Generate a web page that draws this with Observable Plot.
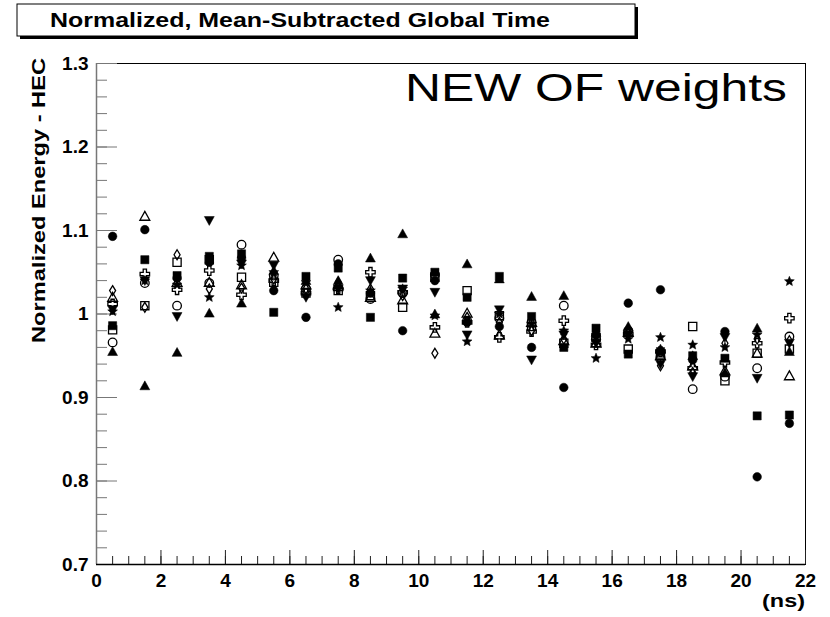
<!DOCTYPE html>
<html>
<head>
<meta charset="utf-8">
<script src="https://cdn.jsdelivr.net/npm/d3@7"></script>
<script src="https://cdn.jsdelivr.net/npm/@observablehq/plot@0.6"></script>
<style>
  html, body { margin: 0; padding: 0; background: #fff; }
  #chart { width: 830px; height: 617px; position: relative; }
</style>
</head>
<body>
<div id="chart"></div>
<script>
// ---------- data ----------
const timeBins = [0.5, 1.5, 2.5, 3.5, 4.5, 5.5, 6.5, 7.5, 8.5, 9.5, 10.5,
                  11.5, 12.5, 13.5, 14.5, 15.5, 16.5, 17.5, 18.5, 19.5, 20.5, 21.5];

const fullCircle   = [1.093, 1.101, 1.043, 1.062, 1.067, 1.028, 0.996, 1.060, 1.025, 0.980, 1.040, 0.990, 0.985, 0.960, 0.912, 0.975, 1.013, 1.029, 0.945, 0.979, 0.805, 0.869];
const fullSquare   = [0.986, 1.065, 1.046, 1.069, 1.072, 1.002, 1.045, 1.055, 0.996, 1.043, 1.050, 1.020, 1.045, 0.997, 0.960, 0.983, 0.952, 0.955, 0.950, 0.947, 0.878, 0.879];
const fullTriUp    = [0.955, 0.914, 0.954, 1.001, 1.013, 1.052, 1.040, 1.040, 1.067, 1.096, 1.000, 1.060, 1.042, 1.021, 1.022, 0.978, 0.985, 0.958, 0.950, 0.930, 0.983, 0.955];
const fullTriDown  = [1.005, 1.040, 0.997, 1.112, 1.060, 1.058, 1.020, 1.030, 1.040, 1.030, 1.026, 0.975, 1.005, 0.945, 0.975, 0.965, 0.975, 0.940, 0.925, 0.972, 0.923, 0.965];
const openCircle   = [0.966, 1.037, 1.010, 1.037, 1.083, 1.046, 1.030, 1.065, 1.018, 1.025, 1.047, 0.992, 0.995, 0.990, 1.010, 0.970, 0.980, 0.948, 0.910, 0.925, 0.935, 0.973];
const openSquare   = [0.981, 1.010, 1.062, 1.065, 1.044, 1.038, 1.025, 1.028, 1.022, 1.008, 1.044, 1.028, 0.998, 0.985, 0.965, 0.972, 0.958, 0.952, 0.985, 0.920, 0.953, 0.958];
const openTriUp    = [1.020, 1.117, 1.038, 1.038, 1.035, 1.068, 1.035, 1.035, 1.020, 1.017, 0.977, 1.001, 0.975, 0.990, 0.968, 0.965, 0.978, 0.950, 0.938, 0.932, 0.953, 0.926];
const openDiamond  = [1.028, 1.008, 1.071, 1.030, 1.031, 1.042, 1.030, 1.038, 1.030, 1.022, 0.953, 0.996, 0.990, 0.980, 0.970, 0.968, 0.982, 0.938, 0.930, 0.965, 0.970, 0.968];
const openCross    = [1.012, 1.048, 1.029, 1.052, 1.023, 1.040, 1.025, 1.030, 1.050, 1.026, 0.984, 0.990, 0.972, 0.979, 0.992, 0.963, 0.976, 0.955, 0.935, 0.942, 0.965, 0.995];
const fullStar     = [1.003, 1.040, 1.035, 1.020, 1.058, 1.050, 1.038, 1.008, 1.028, 1.030, 0.998, 0.967, 1.000, 0.988, 0.980, 0.947, 0.970, 0.972, 0.963, 0.960, 0.975, 1.039];

const xTicks = [0, 2, 4, 6, 8, 10, 12, 14, 16, 18, 20, 22];
const xTickLabels = ["0", "2", "4", "6", "8", "10", "12", "14", "16", "18", "20", "22"];
const yTicks = [0.7, 0.8, 0.9, 1.0, 1.1, 1.2, 1.3];
const yTickLabels = ["0.7", "0.8", "0.9", "1", "1.1", "1.2", "1.3"];

const titleText = "Normalized, Mean-Subtracted Global Time";
const yLabelText = "Normalized Energy - HEC";
const xLabelText = "(ns)";
const noteText = "NEW OF weights";

// ---------- marker shapes (ROOT style) ----------
const mk = fn => ({draw(ctx, size) { const r = Math.sqrt(size / Math.PI); fn(ctx, r); }});
const shapes = {
  circle: mk((c, r) => { c.moveTo(r, 0); c.arc(0, 0, r, 0, 2 * Math.PI); c.closePath(); }),
  square: mk((c, r) => { const s = r * 0.95; c.rect(-s, -s, 2 * s, 2 * s); }),
  triUp: mk((c, r) => { const h = r * 1.15; c.moveTo(0, -h); c.lineTo(h, h * 0.8); c.lineTo(-h, h * 0.8); c.closePath(); }),
  triDown: mk((c, r) => { const h = r * 1.15; c.moveTo(0, h); c.lineTo(h, -h * 0.8); c.lineTo(-h, -h * 0.8); c.closePath(); }),
  diamond: mk((c, r) => { const w = r * 0.7, h = r * 1.15; c.moveTo(0, -h); c.lineTo(w, 0); c.lineTo(0, h); c.lineTo(-w, 0); c.closePath(); }),
  cross: mk((c, r) => {
    const a = r * 0.38, b = r * 1.1;
    const p = [[-a,-b],[a,-b],[a,-a],[b,-a],[b,a],[a,a],[a,b],[-a,b],[-a,a],[-b,a],[-b,-a],[-a,-a]];
    c.moveTo(p[0][0], p[0][1]); p.slice(1).forEach(q => c.lineTo(q[0], q[1])); c.closePath();
  }),
  star: mk((c, r) => {
    const R = r * 1.2, ri = R * 0.45;
    for (let i = 0; i < 10; i++) {
      const rad = i % 2 ? ri : R, a = -Math.PI / 2 + i * Math.PI / 5;
      const x = rad * Math.cos(a), y = rad * Math.sin(a);
      i ? c.lineTo(x, y) : c.moveTo(x, y);
    }
    c.closePath();
  })
};

const series = [
  {name: "fullCircle",  values: fullCircle,  shape: "circle",  filled: true},
  {name: "fullSquare",  values: fullSquare,  shape: "square",  filled: true},
  {name: "fullTriUp",   values: fullTriUp,   shape: "triUp",   filled: true},
  {name: "fullTriDown", values: fullTriDown, shape: "triDown", filled: true},
  {name: "openCircle",  values: openCircle,  shape: "circle",  filled: false},
  {name: "openSquare",  values: openSquare,  shape: "square",  filled: false},
  {name: "openTriUp",   values: openTriUp,   shape: "triUp",   filled: false},
  {name: "openDiamond", values: openDiamond, shape: "diamond", filled: false},
  {name: "openCross",   values: openCross,   shape: "cross",   filled: false},
  {name: "fullStar",    values: fullStar,    shape: "star",    filled: true}
];

const table = series.flatMap(s => s.values.map((v, i) => ({series: s.name, x: timeBins[i], y: v})));

const xMinor = d3.range(0, 22.001, 0.5);
const yMinor = d3.range(0, 31).map(i => +(0.7 + i * 0.02).toFixed(2));

const font = "'Liberation Sans', Arial, Helvetica, sans-serif";

const dotMarks = series.map(s => Plot.dot(table.filter(d => d.series === s.name), {
  x: "x", y: "y", r: 4.3,
  symbol: shapes[s.shape],
  fill: s.filled ? "#000" : "none",
  stroke: "#000",
  strokeWidth: s.filled ? 0.5 : 1.3
}));

const svg = Plot.plot({
  width: 830,
  height: 617,
  marginLeft: 96,
  marginRight: 25,
  marginTop: 63,
  marginBottom: 53,
  style: {fontFamily: font, background: "#fff", color: "#000", overflow: "visible"},
  x: {domain: [0, 22]},
  y: {domain: [0.7, 1.3]},
  marks: [
    Plot.frame({stroke: "#000", strokeWidth: 1}),
    // x ticks (inward)
    Plot.axisX({ticks: xMinor, tickSize: -8, tickFormat: () => "", label: null, stroke: "#222"}),
    Plot.axisX({ticks: xTicks, tickSize: -14, tickFormat: () => "", label: null, stroke: "#222"}),
    Plot.axisX({ticks: xTicks, tickSize: 0, tickPadding: 9, label: null,
      tickFormat: d => xTickLabels[xTicks.indexOf(d)], fontSize: 19, fontWeight: "bold"}),
    // y ticks (inward)
    Plot.axisY({ticks: yMinor, tickSize: -11, tickFormat: () => "", label: null, stroke: "#777"}),
    Plot.axisY({ticks: yTicks, tickSize: -21, tickFormat: () => "", label: null, stroke: "#777"}),
    Plot.axisY({ticks: yTicks, tickSize: 0, tickPadding: 8, label: null,
      tickFormat: d => yTickLabels[yTicks.indexOf(d)], fontSize: 19, fontWeight: "bold"}),
    Plot.ruleX([0], {stroke: "#777", strokeWidth: 1.5}),
    Plot.ruleY([0.7], {stroke: "#000", strokeWidth: 1.5}),
    ...dotMarks
  ]
});

// ---------- annotations ----------
const s = d3.select(svg);
const g = s.append("g").attr("font-family", font).attr("fill", "#000").attr("text-anchor", "start");

// title box with ROOT-style shadow
g.append("rect").attr("x", 20).attr("y", 7).attr("width", 618).attr("height", 32).attr("fill", "#000");
g.append("rect").attr("x", 17).attr("y", 4).attr("width", 618).attr("height", 32)
  .attr("fill", "#fff").attr("stroke", "#000").attr("stroke-width", 1);
g.append("text").attr("x", 50).attr("y", 27).attr("font-size", 20).attr("font-weight", "bold")
  .attr("text-anchor", "start")
  .attr("textLength", 500).attr("lengthAdjust", "spacingAndGlyphs").text(titleText);

// big annotation
g.append("text").attr("x", 405).attr("y", 101).attr("font-size", 39)
  .attr("text-anchor", "start")
  .attr("textLength", 382).attr("lengthAdjust", "spacingAndGlyphs").text(noteText);

// y-axis label
g.append("text").attr("transform", "translate(45,58) rotate(-90)")
  .attr("text-anchor", "end").attr("font-size", 18.5).attr("font-weight", "bold")
  .attr("textLength", 285).attr("lengthAdjust", "spacingAndGlyphs").text(yLabelText);

// x-axis unit label
g.append("text").attr("x", 762).attr("y", 607).attr("font-size", 18).attr("font-weight", "bold")
  .attr("text-anchor", "start")
  .attr("textLength", 43).attr("lengthAdjust", "spacingAndGlyphs").text(xLabelText);

document.getElementById("chart").appendChild(svg);
</script>
</body>
</html>
